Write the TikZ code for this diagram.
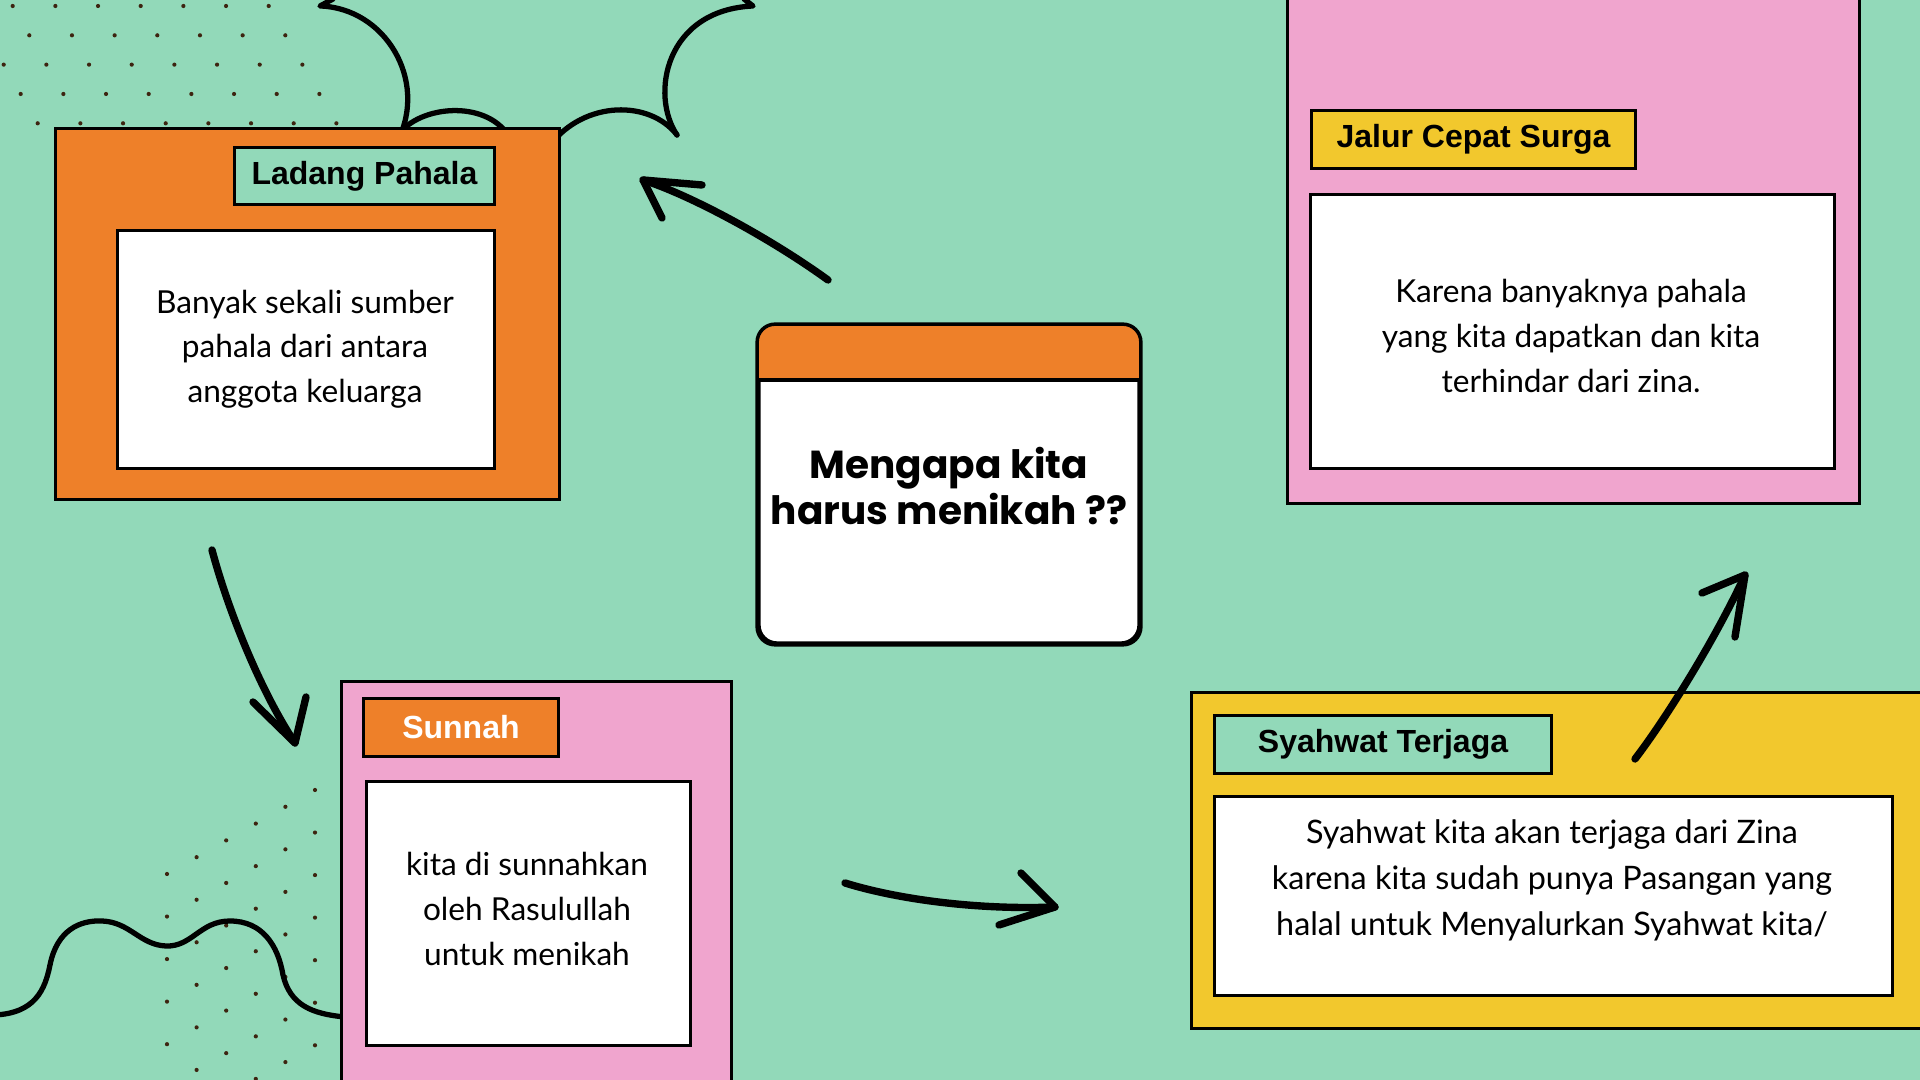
\documentclass[tikz,border=0pt]{standalone}
\usepackage{fontspec}
\setmainfont{Lato}
\newfontfamily\labelfont{Liberation Sans}
\newfontfamily\titlefont{Poppins}
\newfontfamily\handfont{Lato}
\definecolor{bgmint}{HTML}{92D9B9}
\definecolor{corange}{HTML}{EE8029}
\definecolor{cpink}{HTML}{F0A5CE}
\definecolor{cyellow}{HTML}{F2C82D}
\definecolor{cdot}{HTML}{3D2410}
\begin{document}
\begin{tikzpicture}[x=0.01cm,y=-0.01cm,
  panel/.style={draw=black, line width=0.8pt, inner sep=0pt, anchor=north west, rectangle},
  tagtext/.style={font=\labelfont\bfseries\fontsize{9.1}{10}\selectfont, text=black},
  bodytext/.style={font=\handfont\fontsize{9}{12.7}\selectfont, align=center, text=black, inner sep=0pt},
  arrowline/.style={line width=2.1pt, line cap=round, line join=round, draw=black},
  deco/.style={line width=1.5pt, line cap=round, line join=round, draw=black},
  dotmark/.style={fill=cdot}
]
\fill[bgmint] (0,0) rectangle (1920,1080);
\useasboundingbox (0,0) rectangle (1920,1080);
\clip (0,0) rectangle (1920,1080);

% dot grids
\foreach \sx/\n [count=\r from 0] in {12.7/6, 29.3/6, 3.7/7, 20.7/7, 37.7/7}
  \foreach \k in {0,...,\n}
    \fill[dotmark] ({\sx+42.67*\k},{6+29.33*\r}) circle[radius=0.021cm];
\foreach \c in {0,...,5}
  \foreach \j in {0,...,6}
    \fill[dotmark] ({167+29.6*\c},{874-16.8*\c+42.55*\j}) circle[radius=0.021cm];

% decorative curves
\draw[deco] (333,-1) -- (320,6) .. controls (385,8) and (428,80) .. (398,140);
\draw[deco] (398,135) .. controls (420,105) and (485,100) .. (508,135);
\draw[deco] (550,145) .. controls (585,100) and (650,100) .. (677,135);
\draw[deco] (677,135) .. controls (650,95) and (665,10) .. (753,6) -- (744,-1);
\draw[deco] (-5,1015) .. controls (35,1013) and (45,990) .. (50,965)
  .. controls (57,930) and (80,920) .. (102,921)
  .. controls (130,922) and (140,945) .. (166,946)
  .. controls (192,947) and (200,921) .. (230,921)
  .. controls (262,921) and (278,945) .. (283,975)
  .. controls (290,1005) and (312,1014) .. (345,1017);

% Ladang Pahala
\node[panel, fill=corange, minimum width=5.04cm, minimum height=3.71cm] (ladang) at (54,127) {};
\node[panel, fill=bgmint, minimum width=2.60cm, minimum height=0.57cm, tagtext] (ladangTag) at (233,146) {Ladang Pahala};
\node[panel, fill=white, minimum width=3.77cm, minimum height=2.38cm] (ladangBody) at (116,229) {};
\node[bodytext] (ladangText) at (305,349) {Banyak sekali sumber\\pahala dari antara\\anggota keluarga};

% Jalur Cepat Surga
\node[panel, fill=cpink, minimum width=5.72cm, minimum height=5.25cm] (jalur) at (1286,-23) {};
\node[panel, fill=cyellow, minimum width=3.24cm, minimum height=0.58cm, tagtext] (jalurTag) at (1310,109) {Jalur Cepat Surga};
\node[panel, fill=white, minimum width=5.24cm, minimum height=2.74cm] (jalurBody) at (1309,193) {};
\node[bodytext] (jalurText) at (1571,336) {Karena banyaknya pahala\\yang kita dapatkan dan kita\\terhindar dari zina.};

% Sunnah
\node[panel, fill=cpink, minimum width=3.90cm, minimum height=4.30cm] (sunnah) at (340,680) {};
\node[panel, fill=corange, minimum width=1.95cm, minimum height=0.58cm, tagtext, text=white] (sunnahTag) at (362,697) {Sunnah};
\node[panel, fill=white, minimum width=3.24cm, minimum height=2.64cm] (sunnahBody) at (365,780) {};
\node[bodytext] (sunnahText) at (527,909) {kita di sunnahkan\\oleh Rasulullah\\untuk menikah};

% Syahwat Terjaga
\node[panel, fill=cyellow, minimum width=7.50cm, minimum height=3.36cm] (syahwat) at (1190,691) {};
\node[panel, fill=bgmint, minimum width=3.37cm, minimum height=0.58cm, tagtext] (syahwatTag) at (1213,714) {Syahwat Terjaga};
\node[panel, fill=white, minimum width=6.78cm, minimum height=1.99cm] (syahwatBody) at (1213,795) {};
\node[bodytext, font=\handfont\fontsize{9.2}{13.1}\selectfont] (syahwatText) at (1552,880) {Syahwat kita akan terjaga dari Zina\\karena kita sudah punya Pasangan yang\\halal untuk Menyalurkan Syahwat kita/};

% Center card
\node[panel, anchor=center, fill=white, rounded corners=0.18cm, line width=1pt, minimum width=3.80cm, minimum height=3.17cm] (card) at (949,484.5) {};
\begin{scope}
  \clip[rounded corners=0.18cm] (card.north west) rectangle (card.south east);
  \fill[corange] (card.north west) rectangle ([yshift=-0.56cm]card.north east);
\end{scope}
\draw[line width=1pt] ([yshift=-0.56cm]card.north west) -- ([yshift=-0.56cm]card.north east);
\draw[line width=1pt, rounded corners=0.18cm] (card.north west) rectangle (card.south east);
\node[font=\titlefont\bfseries\fontsize{11.1}{11.6}\selectfont, align=center, inner sep=0pt] (cardTitle) at (949,486) {Mengapa kita\\harus menikah ??};

% Arrows
\coordinate (aS) at (828,280); \coordinate (aT) at (643,180);
\coordinate (aL) at (702,185); \coordinate (aR) at (662,218);
\draw[arrowline] (aS) .. controls (770,238) and (690,195) .. (aT);
\draw[arrowline] (aL) -- (aT) -- (aR);

\coordinate (bS) at (212,550); \coordinate (bT) at (295,743);
\coordinate (bL) at (253,702); \coordinate (bR) at (306,697);
\draw[arrowline] (bS) .. controls (228,610) and (260,690) .. (bT);
\draw[arrowline] (bL) -- (bT) -- (bR);

\coordinate (cS) at (845,883); \coordinate (cT) at (1055,907);
\coordinate (cL) at (1021,873); \coordinate (cR) at (999,925);
\draw[arrowline] (cS) .. controls (900,900) and (980,910) .. (cT);
\draw[arrowline] (cL) -- (cT) -- (cR);

\coordinate (dS) at (1635,759); \coordinate (dT) at (1745,575);
\coordinate (dL) at (1702,593); \coordinate (dR) at (1735,637);
\draw[arrowline] (dS) .. controls (1665,720) and (1715,640) .. (dT);
\draw[arrowline] (dL) -- (dT) -- (dR);
\end{tikzpicture}
\end{document}
